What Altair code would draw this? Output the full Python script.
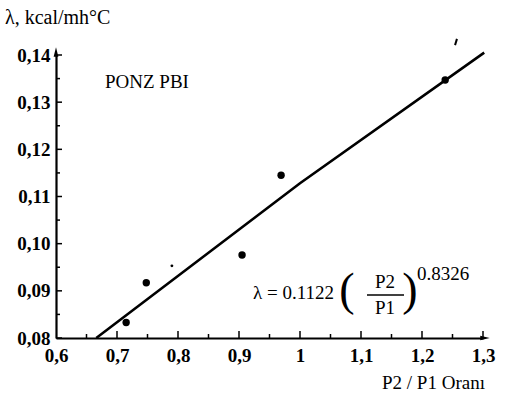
import altair as alt
import pandas as pd

# measured points
x_pts = [0.715, 0.748, 0.905, 0.969, 1.238]
y_pts = [0.0833, 0.0917, 0.0976, 0.1145, 0.1347]
# small stray dot
x_small = [0.79]
y_small = [0.0953]
# fit line
x_fit = [0.666, 1.0, 1.302]
y_fit = [0.0800, 0.1128, 0.1405]

x_ticks = [0.6, 0.7, 0.8, 0.9, 1.0, 1.1, 1.2, 1.3]
y_ticks = [0.08, 0.09, 0.10, 0.11, 0.12, 0.13, 0.14]
x_minor = [0.65, 0.75, 0.85, 0.95, 1.05, 1.15, 1.25]
y_minor = [0.085, 0.095, 0.105, 0.115, 0.125, 0.135]

FONT = "Liberation Serif"
W, H = 427, 283

xs = alt.Scale(domain=[0.6, 1.3], nice=False, zero=False)
ys = alt.Scale(domain=[0.08, 0.14], nice=False, zero=False)

pts = pd.DataFrame({"x": x_pts, "y": y_pts})
small = pd.DataFrame({"x": x_small, "y": y_small})
fit = pd.DataFrame({"x": x_fit, "y": y_fit})

base_axis_x = alt.Axis(values=x_ticks, title=None, ticks=False, grid=False,
                       domainColor="black", domainWidth=2.2,
                       labelExpr="replace(format(datum.value, '~g'), '.', ',')",
                       labelFont=FONT, labelFontSize=19, labelColor="black",
                       labelPadding=8, labelFlush=False, labelFontWeight="bold")
base_axis_y = alt.Axis(values=y_ticks, title=None, ticks=False, grid=False,
                       domainColor="black", domainWidth=2.2,
                       labelExpr="replace(format(datum.value, '.2f'), '.', ',')",
                       labelFont=FONT, labelFontSize=19, labelColor="black",
                       labelPadding=6, labelFlush=False, labelFontWeight="bold")

line = alt.Chart(fit).mark_line(color="black", strokeWidth=2.6).encode(
    x=alt.X("x:Q", scale=xs, axis=base_axis_x),
    y=alt.Y("y:Q", scale=ys, axis=base_axis_y),
)

dots = alt.Chart(pts).mark_circle(color="black", size=55, opacity=1).encode(
    x=alt.X("x:Q", scale=xs), y=alt.Y("y:Q", scale=ys))
sdot = alt.Chart(small).mark_circle(color="black", size=8, opacity=1).encode(
    x=alt.X("x:Q", scale=xs), y=alt.Y("y:Q", scale=ys))

ymaj = alt.Chart(pd.DataFrame({"v": y_ticks})).mark_rule(color="black", strokeWidth=1.5).encode(
    y=alt.Y("v:Q", scale=ys), x=alt.value(0), x2=alt.value(6))
ymin = alt.Chart(pd.DataFrame({"v": y_minor})).mark_rule(color="black", strokeWidth=1.5).encode(
    y=alt.Y("v:Q", scale=ys), x=alt.value(0), x2=alt.value(4))
xmaj = alt.Chart(pd.DataFrame({"v": x_ticks[1:]})).mark_rule(color="black", strokeWidth=1.5).encode(
    x=alt.X("v:Q", scale=xs), y=alt.value(H), y2=alt.value(H - 7))
xmin = alt.Chart(pd.DataFrame({"v": x_minor})).mark_rule(color="black", strokeWidth=1.5).encode(
    x=alt.X("v:Q", scale=xs), y=alt.value(H), y2=alt.value(H - 4))

arrow_y = alt.Chart(pd.DataFrame({"a": [0]})).mark_point(
    shape="M-0.5,1L0,-1L0.5,1Z", filled=True, color="black", size=90, opacity=1).encode(
    x=alt.value(0), y=alt.value(-3))
arrow_x = alt.Chart(pd.DataFrame({"a": [1]})).mark_point(
    shape="M-1,-0.5L1,0L-1,0.5Z", filled=True, color="black", size=90, opacity=1).encode(
    x=alt.value(W + 2), y=alt.value(H))

stray = alt.Chart(pd.DataFrame({"a": [2]})).mark_point(
    shape="M-0.3,1L0.3,-1", filled=False, color="black", strokeWidth=2, size=40, opacity=1).encode(
    x=alt.value(400), y=alt.value(-13))

ann_text = ["λ, kcal/mh°C", "PONZ PBI", "λ = 0.1122", "P2", "P1", "0.8326", "P2 / P1 Oranı"]

def txt(s, x, y, size=16, align="left"):
    return alt.Chart(pd.DataFrame({"t": [s]})).mark_text(
        font=FONT, fontSize=size, align=align, baseline="middle", color="black").encode(
        text="t:N", x=alt.value(x), y=alt.value(y))

fracline = alt.Chart(pd.DataFrame({"a": [3]})).mark_rule(color="black", strokeWidth=1.3).encode(
    x=alt.value(311), x2=alt.value(348), y=alt.value(240))

texts = [
    txt(ann_text[0], -51, -37, 20),
    txt(ann_text[1], 49, 27, 19),
    txt(ann_text[2], 197, 238, 19),
    txt("(", 291, 236, 46, align="center"),
    txt(ann_text[3], 329, 227, 19, align="center"),
    txt(ann_text[4], 329, 253, 19, align="center"),
    txt(")", 354, 236, 46, align="center"),
    txt(ann_text[5], 361, 219, 19),
    txt(ann_text[6], 326, 328, 19),
]

chart = alt.layer(line, dots, sdot, ymaj, ymin, xmaj, xmin, arrow_y, arrow_x, stray,
                  fracline, *texts).properties(
    width=W, height=H,
    autosize=alt.AutoSizeParams(type="none"),
    padding={"left": 56, "top": 55, "right": 23, "bottom": 62},
).configure(font=FONT).configure_text(font=FONT).configure_axis(labelFont=FONT).configure_view(stroke=None, clip=False)

chart.save("out.html", embed_options={"renderer": "svg", "actions": False})
